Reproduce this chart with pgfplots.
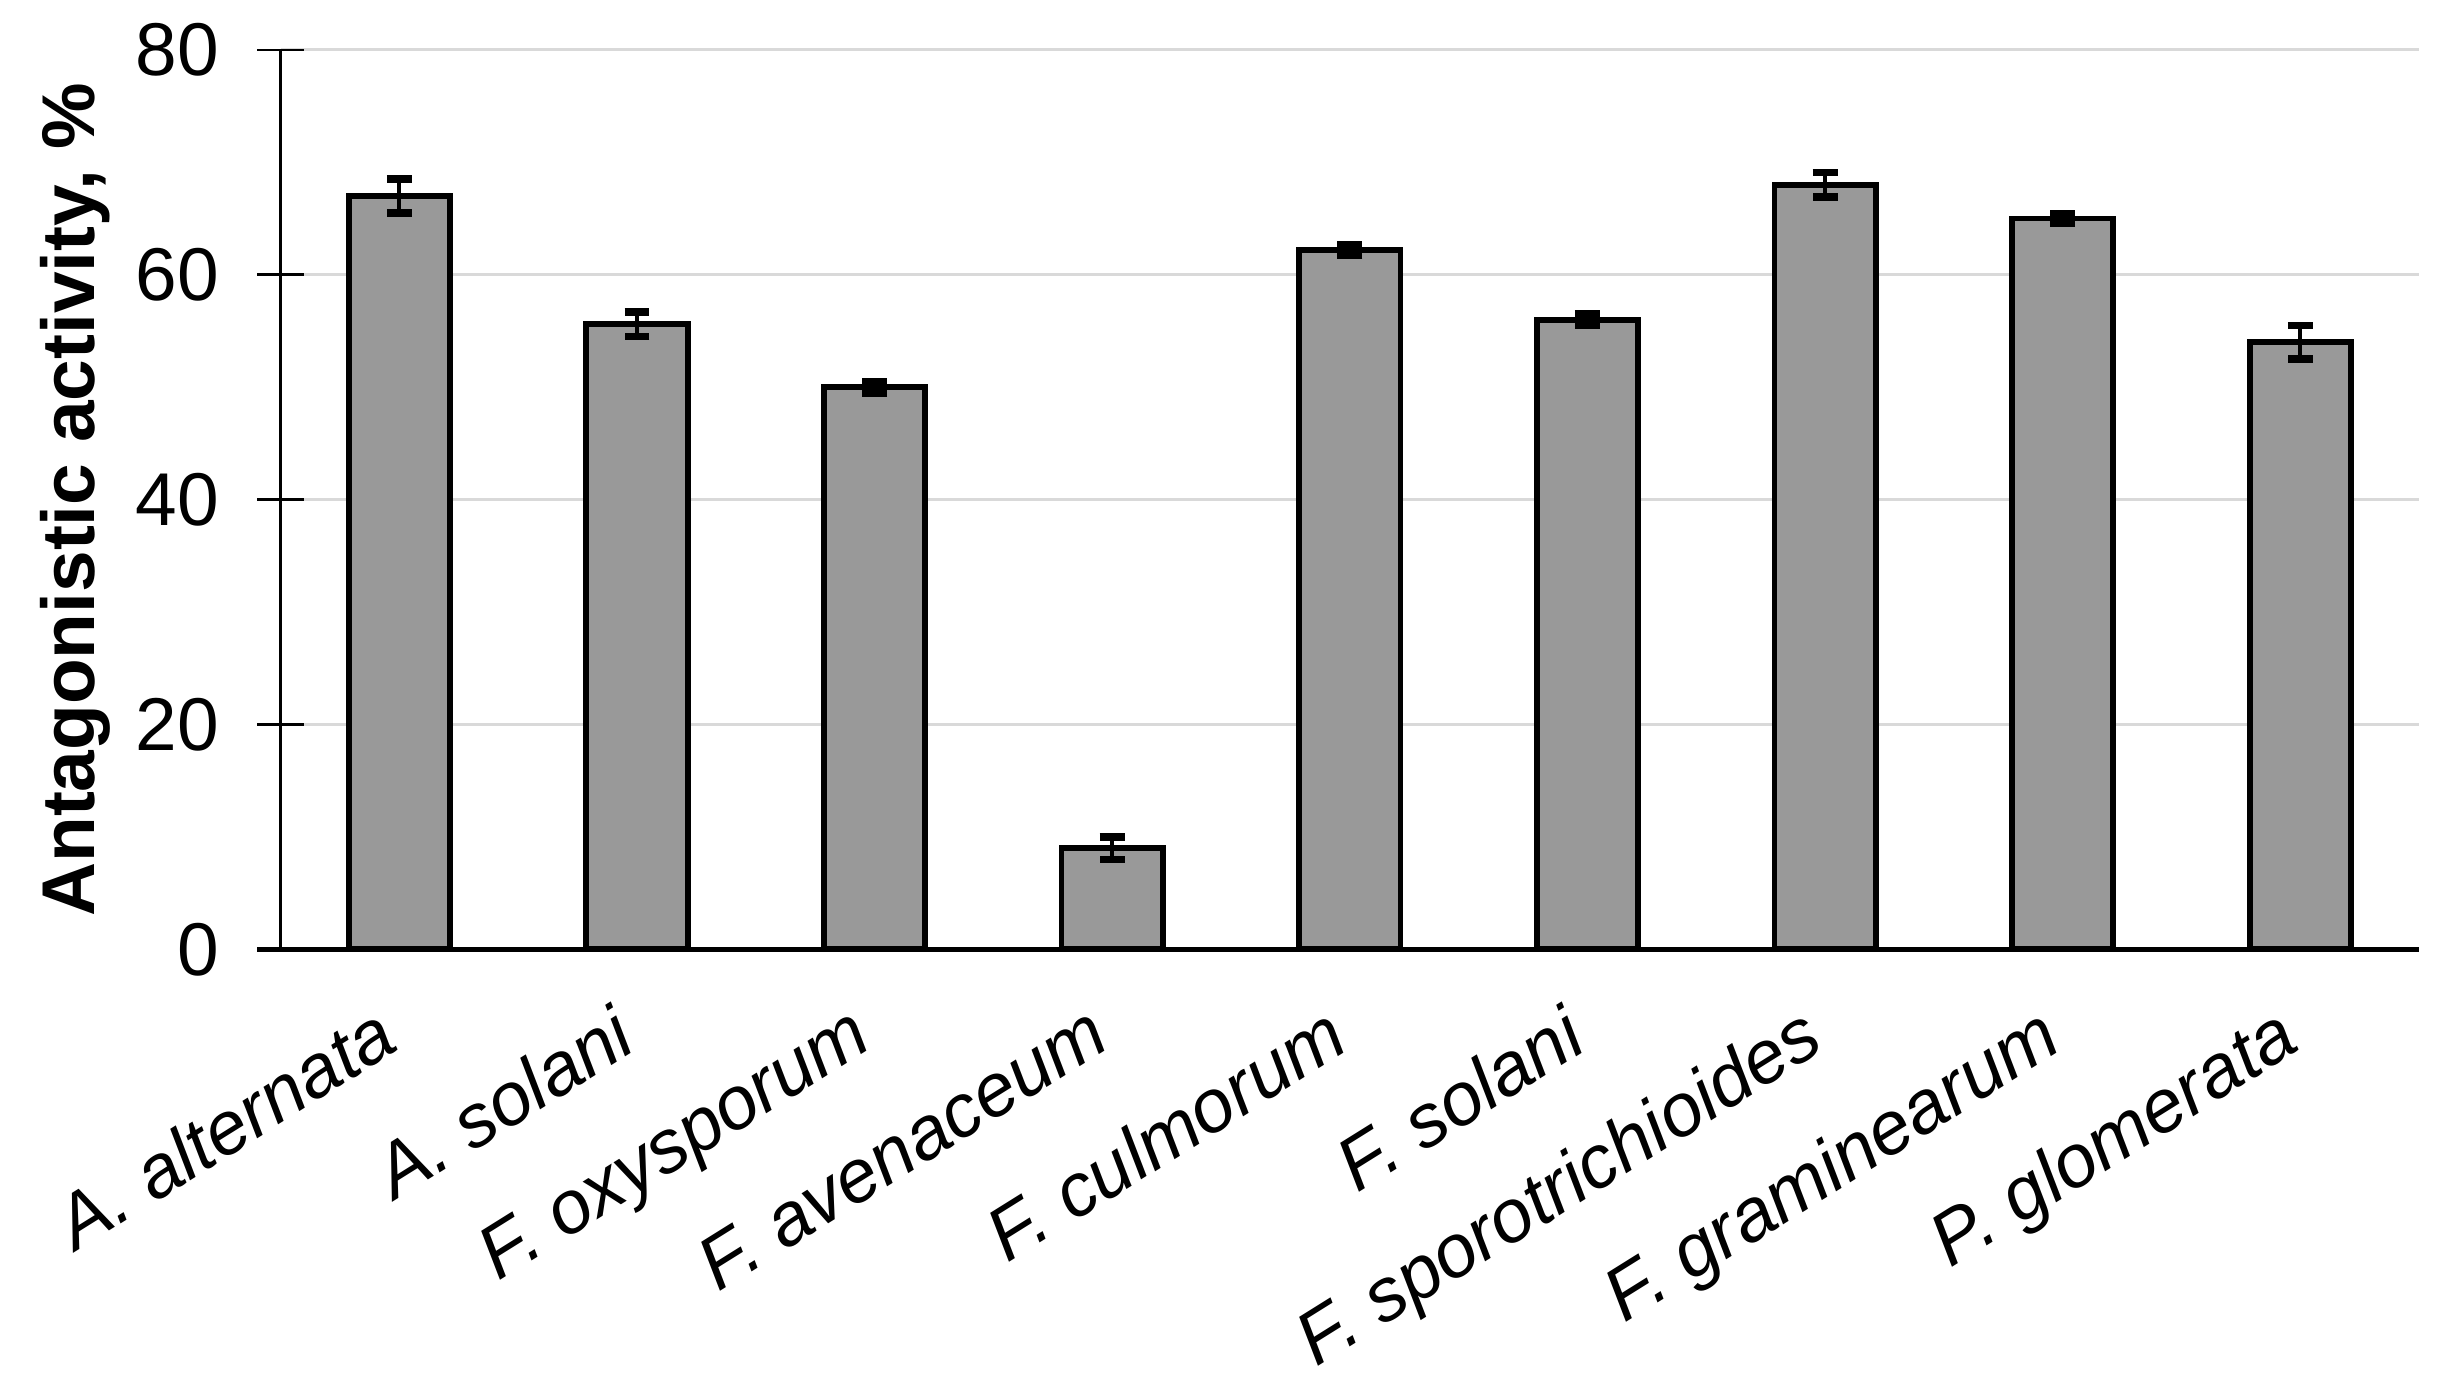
\documentclass[border=0pt]{standalone}
\usepackage{fontspec}
\setmainfont{Liberation Sans}
\usepackage{pgfplots}
\pgfplotsset{compat=1.18}
\definecolor{barfill}{RGB}{153,153,153}
\definecolor{gridgray}{RGB}{217,217,217}

\begin{document}
\begin{tikzpicture}
\begin{axis}[
    name=main,
    scale only axis,
    width=686pt, height=288.5pt,
    xmin=-0.5, xmax=8.5,
    ymin=0, ymax=80,
    ytick={0,20,40,60,80},
    xtick=data,
    xticklabels={A. alternata, A. solani, F. oxysporum, F. avenaceum, F. culmorum,
                 F. solani, F. sporotrichioides, F. graminearum, P. glomerata},
    axis x line*=bottom,
    axis y line*=left,
    x axis line style={line width=1.6pt, shorten <=-7.5pt},
    y axis line style={line width=0.9pt},
    ymajorgrids,
    grid style={gridgray, line width=1pt},
    tick align=center,
    major tick length=15pt,
    ytick style={line width=0.9pt, black},
    xtick style={draw=none},
    /pgf/number format/assume math mode=true,
    yticklabel style={font=\fontsize{24}{28}\selectfont, anchor=east, inner sep=0pt, xshift=-12pt},
    xticklabel shift=-7pt,
    xticklabel style={font=\fontsize{24}{28}\selectfont\itshape, rotate=32, anchor=north east,
                      inner sep=0pt, xshift=-12pt, yshift=-3pt},
    ylabel={\bfseries Antagonistic activity, \%},
    ylabel style={font=\fontsize{24}{28}\selectfont, at={(axis description cs:-0.096,0.5)}, anchor=center},
    ybar, bar width=32.5pt,
]
\addplot[fill=barfill, draw=black, line width=1.85pt,
    error bars/.cd, y dir=both, y explicit,
    error bar style={line width=1.2pt, black},
    error mark options={line width=2.4pt, mark size=4pt, black, rotate=90}]
coordinates {
    (0,67.0) +- (0,1.5)
    (1,55.6) +- (0,1.1)
    (2,50.0) +- (0,0.5)
    (3,9.0)  +- (0,1.0)
    (4,62.2) +- (0,0.5)
    (5,56.0) +- (0,0.5)
    (6,68.0) +- (0,1.1)
    (7,65.0) +- (0,0.4)
    (8,54.0) +- (0,1.5)
};
\end{axis}
\pgfresetboundingbox
\useasboundingbox ([shift={(-90pt,-141pt)}]main.south west) rectangle ([shift={(694pt,304.5pt)}]main.south west);
\end{tikzpicture}
\end{document}
